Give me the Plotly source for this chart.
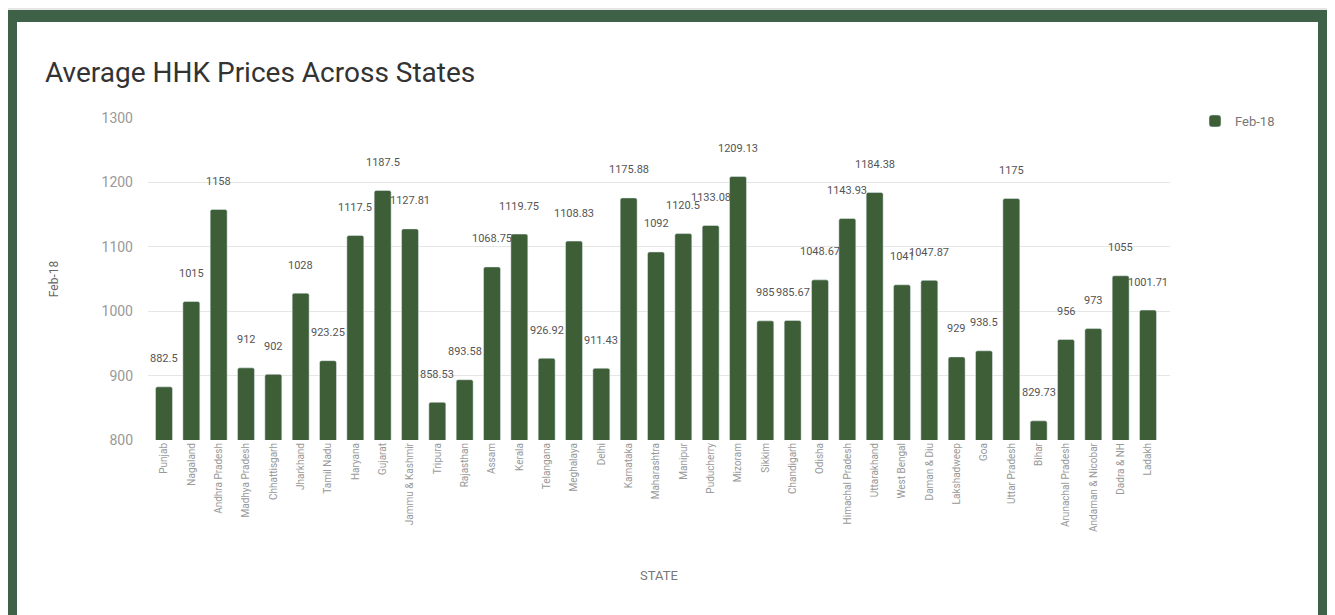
import plotly.graph_objects as go

states = [
    "Punjab", "Nagaland", "Andhra Pradesh", "Madhya Pradesh", "Chhattisgarh",
    "Jharkhand", "Tamil Nadu", "Haryana", "Gujarat", "Jammu & Kashmir",
    "Tripura", "Rajasthan", "Assam", "Kerala", "Telangana", "Meghalaya",
    "Delhi", "Karnataka", "Maharashtra", "Manipur", "Puducherry", "Mizoram",
    "Sikkim", "Chandigarh", "Odisha", "Himachal Pradesh", "Uttarakhand",
    "West Bengal", "Daman & Diu", "Lakshadweep", "Goa", "Uttar Pradesh",
    "Bihar", "Arunachal Pradesh", "Andaman & Nicobar", "Dadra & NH", "Ladakh",
]
feb18 = [
    882.5, 1015, 1158, 912, 902, 1028, 923.25, 1117.5, 1187.5, 1127.81,
    858.53, 893.58, 1068.75, 1119.75, 926.92, 1108.83, 911.43, 1175.88, 1092,
    1120.5, 1133.08, 1209.13, 985, 985.67, 1048.67, 1143.93, 1184.38, 1041,
    1047.87, 929, 938.5, 1175, 829.73, 956, 973, 1055, 1001.71,
]
y_ticks = [800, 900, 1000, 1100, 1200, 1300]
series_name = "Feb-18"

OFF = 8  # page body margin
W, H = 1335 - OFF, 615 - OFF
# plot area in page pixels
PL, PR, PT, PB = 148, 1170, 118, 440
L, R, T, B = PL - OFF, PR - OFF, PT - OFF, PB - OFF


def px(x):
    return (x - PL) / (PR - PL)


def py(y):
    return (PB - y) / (PB - PT)


BAR = "#3d5e37"

fig = go.Figure()
fig.add_trace(go.Bar(
    x=states, y=feb18, name=series_name,
    marker=dict(color=BAR, cornerradius=2),
    hoverinfo="x+y",
))

annotations = []
for s, v in zip(states, feb18):
    annotations.append(dict(
        x=s, y=v, xref="x", yref="y", text=f"{v:g}", showarrow=False,
        yshift=28, font=dict(family="Roboto", size=11, color="#555555"),
    ))

shapes = [
    dict(type="rect", xref="paper", yref="paper", layer="below",
         x0=px(-20), x1=px(1400), y0=py(700), y1=py(-20),
         fillcolor="#e6e6e6", line=dict(width=0)),
    # dark green frame
    dict(type="rect", xref="paper", yref="paper", layer="below",
         x0=px(5), x1=px(1330), y0=py(700), y1=py(10),
         fillcolor="#3e6147", line=dict(width=0)),
    # white card
    dict(type="rect", xref="paper", yref="paper", layer="below",
         x0=px(17), x1=px(1318), y0=py(700), y1=py(22),
         fillcolor="#ffffff", line=dict(width=0)),
]

fig.update_layout(
    width=W, height=H,
    margin=dict(l=L, r=W - R, t=T, b=H - B, pad=0, autoexpand=False),
    paper_bgcolor="#e6e6e6",
    plot_bgcolor="#ffffff",
    bargap=0.38,
    font=dict(family="Roboto", color="#555555"),
    title=dict(
        text="Average HHK Prices Across States",
        x=(45 - OFF) / W, xref="container", xanchor="left",
        y=1 - (72 - OFF) / H, yref="container", yanchor="middle",
        font=dict(family="Roboto", size=28, color="#333333"),
    ),
    showlegend=True,
    legend=dict(
        x=px(1195), y=py(106), xanchor="left", yanchor="top",
        font=dict(family="Roboto", size=13, color="#777777"),
        bgcolor="rgba(0,0,0,0)",
    ),
    xaxis=dict(
        title=dict(text="STATE", font=dict(size=13, color="#777777"), standoff=39),
        tickangle=-90,
        tickfont=dict(family="Roboto", size=10, color="#999999"),
        showgrid=False, showline=False, ticks="",
    ),
    yaxis=dict(
        title=dict(text=series_name, font=dict(size=12, color="#666666"), standoff=40),
        range=[800, 1300], tickvals=y_ticks,
        tickfont=dict(family="Roboto", size=14, color="#999999"),
        gridcolor="#e6e6e6", gridwidth=1, zeroline=False, showline=False,
        ticklabelstandoff=14,
    ),
    annotations=annotations,
    shapes=shapes,
)

fig.write_html("out.html")
